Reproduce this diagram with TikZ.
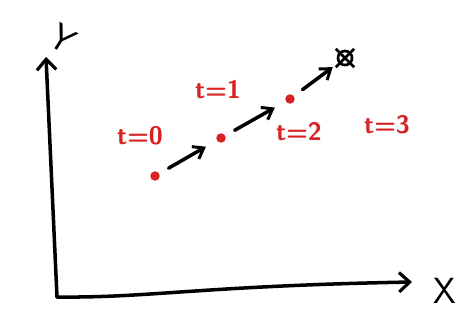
\documentclass[tikz,border=0pt]{standalone}
\usepackage{xcolor}
\usetikzlibrary{arrows.meta,shapes.misc}
\definecolor{penred}{RGB}{214,34,34}

\begin{document}
\begin{tikzpicture}[x=0.02cm,y=-0.02cm,
  pen/.style={line width=2pt,line cap=round,line join=round},
  dotpt/.style={circle,fill=penred,inner sep=0pt,minimum size=5.4pt},
  tlabel/.style={penred,font=\Large\sffamily\bfseries},
  hop/.style={pen,-{Straight Barb[length=5.5pt,width=8pt,line width=1.7pt]},shorten <=6pt,shorten >=7pt}]
\useasboundingbox (0,0) rectangle (460,335);
% axes
\coordinate (o) at (57,297);
\coordinate (ytip) at (46,57);
\coordinate (xtip) at (412,282);
\draw[pen,-{Straight Barb[length=6pt,width=11pt,line width=1.8pt]}] (o) -- (ytip);
\draw[pen,-{Straight Barb[length=6pt,width=11pt,line width=1.8pt]}] (o) .. controls (150,298) and (200,286) .. (xtip);
\node[font=\huge\sffamily] (xlab) at (445,291) {X};
\node[font=\huge\sffamily,rotate=-32] (ylab) at (63,39) {Y};
% positions at each time
\node[dotpt] (d0) at (155,176) {};
\node[dotpt] (d1) at (221,138) {};
\node[dotpt] (d2) at (290,99) {};
\node[circle,draw,line width=1.5pt,inner sep=0pt,minimum size=8pt] (d3) at (345,58) {};
\node[cross out,draw,line width=1.5pt,inner sep=0pt,minimum size=9pt] at (d3) {};
\draw[hop] (d0) -- (d1);
\draw[hop] (d1) -- (d2);
\draw[hop,shorten >=4pt] (d2) -- (d3);
% time labels
\node[tlabel] (t0) at (140,136) {t=0};
\node[tlabel] (t1) at (218,90) {t=1};
\node[tlabel] (t2) at (299,132) {t=2};
\node[tlabel] (t3) at (387,125) {t=3};
\end{tikzpicture}
\end{document}
